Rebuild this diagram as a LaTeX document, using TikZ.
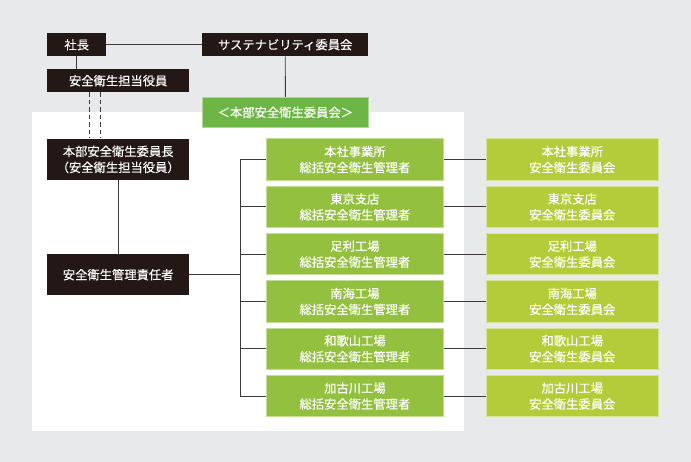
\documentclass[tikz,border=0pt]{standalone}
\usepackage{fontspec}
\newfontfamily\cjk[FakeBold=0.3]{Noto Sans CJK JP}
\definecolor{bggray}{HTML}{E8E9EB}
\definecolor{darkbox}{HTML}{231815}
\definecolor{midgreen}{HTML}{93C13F}
\definecolor{ltgreen}{HTML}{B5CC3A}
\definecolor{hdgreen}{HTML}{6DB545}
\definecolor{linecol}{HTML}{3E3A39}
\tikzset{
  base/.style={text=white, font=\cjk\fontsize{12.3}{16}\selectfont, align=center, inner sep=0pt, anchor=north west},
  darkbox/.style={base, fill=darkbox},
  midbox/.style={base, fill=midgreen, draw=midgreen!55!white, line width=0.8pt, minimum width=177pt, minimum height=41.3pt},
  rbox/.style={base, fill=ltgreen, draw=ltgreen!55!white, line width=0.8pt, minimum width=171.7pt, minimum height=41.3pt},
  hdbox/.style={base, fill=hdgreen, draw=hdgreen!55!white, line width=0.8pt},
  conn/.style={draw=linecol, line width=0.9pt},
  dashconn/.style={draw=linecol, line width=0.9pt, dash pattern=on 4.5pt off 3pt}
}
\begin{document}
\begin{tikzpicture}[x=1pt,y=-1pt]
\fill[bggray] (0,0) rectangle (691,462);
\useasboundingbox (0,0) rectangle (691,462);
\fill[white] (32,112) rectangle (464,431);

\node[darkbox, minimum width=59pt, minimum height=23pt] (shacho) at (47,33) {社長};
\node[darkbox, minimum width=166pt, minimum height=23pt] (sus) at (202,33) {サステナビリティ委員会};
\node[darkbox, minimum width=142pt, minimum height=23pt] (tanto) at (47,69) {安全衛生担当役員};
\node[hdbox, minimum width=166pt, minimum height=30pt] (hq) at (202,97) {＜本部安全衛生委員会＞};
\node[darkbox, minimum width=142pt, minimum height=41.5pt] (iincho) at (47,138.5) {本部安全衛生委員長\\（安全衛生担当役員）};
\node[darkbox, minimum width=142pt, minimum height=41pt] (sekinin) at (47,254) {安全衛生管理責任者};

\foreach \i/\y/\a/\b in {1/138.5/本社事業所/本社事業所,2/185.8/東京支店/東京支店,3/233.1/足利工場/足利工場,4/280.4/南海工場/南海工場,5/327.7/和歌山工場/和歌山工場,6/375/加古川工場/加古川工場}{
  \node[midbox] (m\i) at (266,\y) {\a\\総括安全衛生管理者};
  \node[rbox] (r\i) at (486,\y) {\b\\安全衛生委員会};
}

\coordinate (bus) at (240,0);
\coordinate (d1) at (89.5,0);
\coordinate (d2) at (100,0);

\draw[conn] (shacho.east) -- (sus.west);
\draw[conn] (shacho.south) -- (shacho.south |- tanto.north);
\draw[conn] (sus.south) -- (hq.north);
\draw[dashconn] (tanto.south -| d1) -- (iincho.north -| d1);
\draw[dashconn] (tanto.south -| d2) -- (iincho.north -| d2);
\draw[conn] (iincho.south) -- (sekinin.north);
\draw[conn] (sekinin.east) -- (sekinin.east -| bus);
\draw[conn] (m1.west -| bus) -- (m6.west -| bus);
\foreach \i in {1,...,6}{
  \draw[conn] (m\i.west -| bus) -- (m\i.west);
  \draw[conn] (m\i.east) -- (r\i.west);
}
\end{tikzpicture}
\end{document}
